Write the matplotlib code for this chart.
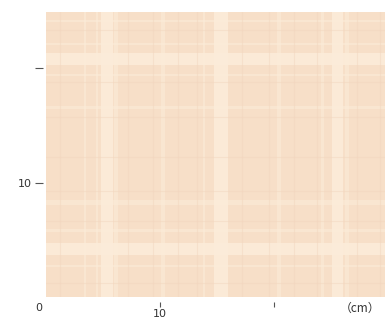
import matplotlib.pyplot as plt

# 布地の格子柄（単位 cm）
# 太い明るい縞（縦）: 開始, 終了
wide_x_start = [4.8, 14.8, 25.1]
wide_x_end = [5.9, 16.0, 26.1]
# 細い明るい縞（縦）
thin_x_start = [3.3, 4.4, 6.0, 10.1, 13.8, 20.3, 24.2, 26.3]
thin_x_end = [3.5, 4.6, 6.3, 10.5, 14.0, 20.7, 24.4, 26.6]
# 太い明るい縞（横）
wide_y_start = [3.7, 20.3]
wide_y_end = [4.7, 21.3]
# 細い明るい縞（横）
thin_y_start = [2.6, 5.7, 8.0, 16.4, 19.3, 22.0, 24.0]
thin_y_end = [2.8, 5.9, 8.5, 16.7, 19.5, 22.2, 24.2]
# やや濃い細線
dark_x = [1.2, 7.2, 9.4, 11.6, 13.3, 17.2, 19.6, 21.8, 23.8, 27.3, 29.4]
dark_y = [1.2, 6.6, 9.3, 12.2, 15.7, 18.8, 23.3]

xticks = [10, 20]
xtick_labels = ['10', '']
yticks = [10, 20]
ytick_labels = ['10', '']

fig = plt.figure(figsize=(3.85, 3.2), dpi=100)
ax = fig.add_axes([46 / 385, 23 / 320, 339 / 385, 285 / 320])
ax.set_xlim(0, 29.8)
ax.set_ylim(0, 24.9)
ax.set_facecolor('#f7dfc8')

for a, b in zip(wide_x_start, wide_x_end):
    ax.axvspan(a, b, color='#fcecda', alpha=0.85, lw=0)
for a, b in zip(thin_x_start, thin_x_end):
    ax.axvspan(a, b, color='#fcecda', alpha=0.55, lw=0)
for a, b in zip(wide_y_start, wide_y_end):
    ax.axhspan(a, b, color='#fcecda', alpha=0.85, lw=0)
for a, b in zip(thin_y_start, thin_y_end):
    ax.axhspan(a, b, color='#fcecda', alpha=0.55, lw=0)
for v in dark_x:
    ax.axvline(v, color='#f2d5bd', lw=0.8, alpha=0.45)
for v in dark_y:
    ax.axhline(v, color='#f2d5bd', lw=0.8, alpha=0.45)

for s in ax.spines.values():
    s.set_visible(False)
ax.spines['left'].set_position(('outward', 2.2))
ax.spines['bottom'].set_position(('outward', 3.5))

ax.set_xticks(xticks)
ax.set_xticklabels(xtick_labels)
ax.set_yticks(yticks)
ax.set_yticklabels(ytick_labels)
ax.tick_params(axis='y', length=6, width=0.8, color='#555555', pad=2,
               labelsize=8, labelcolor='#333333')
ax.tick_params(axis='x', length=3.5, width=0.8, color='#555555', pad=1.5,
               labelsize=8, labelcolor='#333333')

fig.text(39 / 385, 1 - 308 / 320, '0', ha='center', va='center',
         fontsize=8, color='#333333')
fig.text(360 / 385, 1 - 308 / 320, '（cm）', ha='center', va='center',
         fontsize=8.5, color='#333333',
         family=['Noto Sans CJK JP', 'DejaVu Sans'])

fig.savefig('out.png', dpi=100)
